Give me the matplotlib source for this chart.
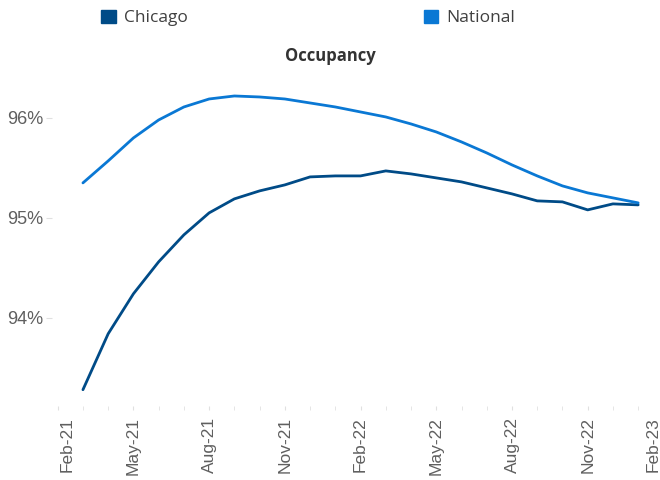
import matplotlib
matplotlib.use("Agg")
import matplotlib.pyplot as plt
from matplotlib.patches import Patch
from matplotlib.transforms import ScaledTranslation

# meses com dados: Mar-21 .. Jan-23 (indice 0 = Feb-21)
meses = list(range(1, 24))
chicago = [93.28, 93.84, 94.24, 94.56, 94.83, 95.05, 95.19, 95.27, 95.33, 95.41,
           95.42, 95.42, 95.47, 95.44, 95.40, 95.36, 95.30, 95.24, 95.17, 95.16,
           95.08, 95.14, 95.13]
national = [95.35, 95.57, 95.80, 95.98, 96.11, 96.19, 96.22, 96.21, 96.19, 96.15,
            96.11, 96.06, 96.01, 95.94, 95.86, 95.76, 95.65, 95.53, 95.42, 95.32,
            95.25, 95.20, 95.15]

rotulos_x = ["Feb-21", "May-21", "Aug-21", "Nov-21", "Feb-22", "May-22",
             "Aug-22", "Nov-22", "Feb-23"]
ticks_y = [94, 95, 96]
rotulos_y = ["94%", "95%", "96%"]

cor_chicago = "#004B87"
cor_national = "#0A78D4"
cinza = "#5f5f5f"

fig = plt.figure(figsize=(6.6, 4.8), dpi=100)
ax = fig.add_axes([52 / 660, 1 - 405.7 / 480, (663.4 - 52) / 660, (405.7 - 68) / 480])

ax.plot(meses, chicago, color=cor_chicago, linewidth=2.0, solid_capstyle="round")
ax.plot(meses, national, color=cor_national, linewidth=2.0, solid_capstyle="round")

ax.set_xlim(-0.226, 24)
ax.set_ylim(93.12, 96.5)

for s in ax.spines.values():
    s.set_visible(False)

ax.set_xticks(range(0, 25, 3))
ax.set_xticklabels(rotulos_x, rotation=90, fontfamily="Liberation Sans",
                   fontsize=12.5, color=cinza)
ax.set_xticks(range(0, 25), minor=True)
ax.tick_params(axis="x", which="both", length=3, color="#e0e0e0", pad=5)

ax.set_yticks(ticks_y)
ax.set_yticklabels(rotulos_y, fontfamily="Liberation Sans", fontsize=13, color=cinza)
ax.tick_params(axis="y", length=4, color="#e0e0e0", pad=2)

# primeiro e ultimo rotulo deslocados para dentro (como no Excel)
labs = ax.get_xticklabels()
labs[0].set_transform(labs[0].get_transform() + ScaledTranslation(9 / 100, 0, fig.dpi_scale_trans))
labs[-1].set_transform(labs[-1].get_transform() + ScaledTranslation(-10 / 100, 0, fig.dpi_scale_trans))

fig.text(330 / 660, 1 - 56 / 480, "Occupancy", ha="center", va="center",
         fontfamily="Open Sans", fontweight="bold", fontsize=12, color="#333333")

handles = [Patch(color=cor_chicago), Patch(color=cor_national)]
fig.legend(handles, ["Chicago", "National"], loc="center",
           bbox_to_anchor=(308 / 660, 1 - 18 / 480), ncol=2, frameon=False,
           handlelength=0.85, handleheight=0.85, handletextpad=0.45,
           columnspacing=13.6,
           prop={"family": "Open Sans", "size": 12.5}, labelcolor="#404040")

fig.savefig("out.png", dpi=100)
